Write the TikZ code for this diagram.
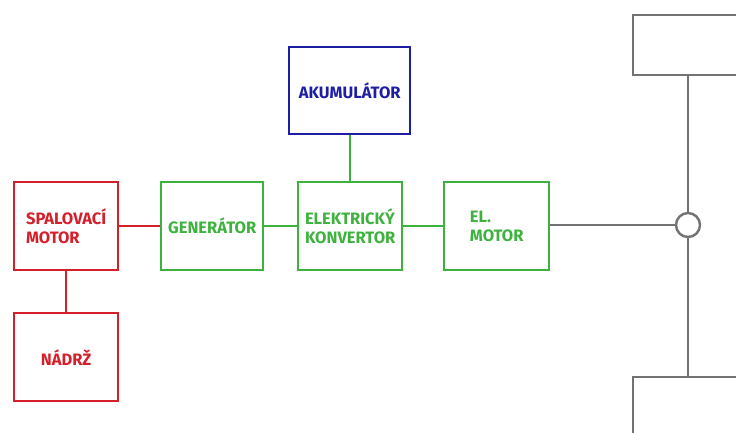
\documentclass[tikz,border=0pt]{standalone}
\usepackage{fontspec}
\setmainfont{Fira Sans}
\definecolor{cred}{RGB}{212,32,42}
\definecolor{cgreen}{RGB}{62,178,62}
\definecolor{cblue}{RGB}{30,30,165}
\definecolor{cgray}{RGB}{115,115,115}
\begin{document}
\begin{tikzpicture}[x=1pt,y=-1pt,
  blk/.style={draw,line width=2.4pt,rectangle,anchor=north west,inner sep=0pt,align=left,font=\bfseries\fontsize{16.5}{19}\selectfont},
  redblk/.style={blk,draw=cred,text=cred},
  greenblk/.style={blk,draw=cgreen,text=cgreen},
  blueblk/.style={blk,draw=cblue,text=cblue},
  grayblk/.style={blk,draw=cgray},
  conn/.style={line width=2.4pt}]
\useasboundingbox (0,0) rectangle (736,432);
\node[redblk,minimum width=104pt,minimum height=88pt] (spal) at (13,181) {SPALOVACÍ\\MOTOR};
\node[redblk,minimum width=104pt,minimum height=88pt] (nadrz) at (13,312) {NÁDRŽ};
\node[greenblk,minimum width=102pt,minimum height=88pt] (gen) at (160,181) {GENERÁTOR};
\node[blueblk,minimum width=121pt,minimum height=87pt] (aku) at (288,46) {AKUMULÁTOR};
\node[greenblk,minimum width=104pt,minimum height=88pt] (konv) at (297,181) {ELEKTRICKÝ\\KONVERTOR};
\node[greenblk,minimum width=105pt,minimum height=88pt] (elm) at (443,181) {EL.\\MOTOR};
\node[grayblk,minimum width=130pt,minimum height=60pt] (top) at (632,14) {};
\node[grayblk,minimum width=130pt,minimum height=80pt] (bot) at (632,376) {};
\node[draw=cgray,line width=2.4pt,circle,fill=white,minimum size=24pt,inner sep=0pt] (circ) at (688,225) {};
\draw[conn,cred] (spal) -- (gen);
\draw[conn,cred] (spal) -- (nadrz);
\draw[conn,cgreen] (gen) -- (konv);
\draw[conn,cgreen] (aku) -- (aku |- konv.north);
\draw[conn,cgreen] (konv) -- (elm);
\draw[conn,cgray] (elm.east |- circ) -- (circ);
\draw[conn,cgray] (circ) -- (circ |- top.south);
\draw[conn,cgray] (circ) -- (circ |- bot.north);
\end{tikzpicture}
\end{document}
